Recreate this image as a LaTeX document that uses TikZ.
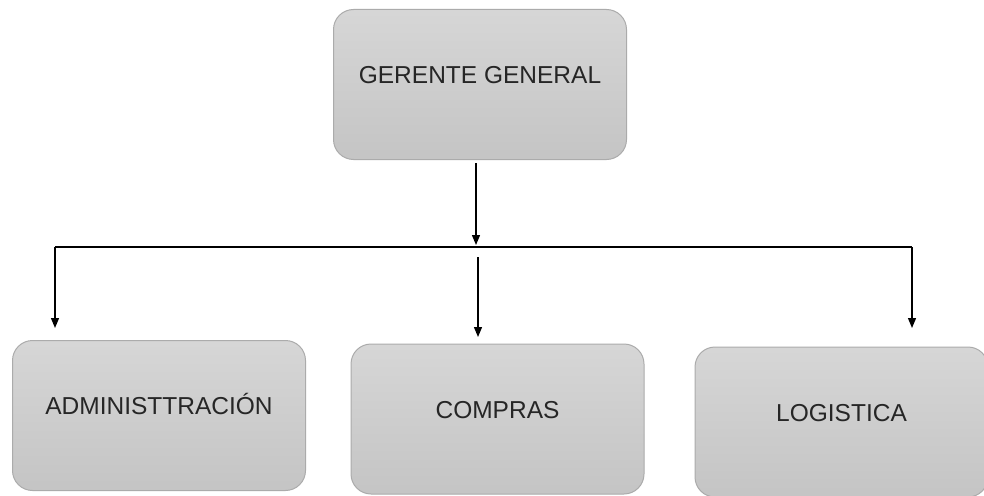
\documentclass[tikz,border=0pt]{standalone}
\usepackage{fontspec}
\setmainfont{Liberation Sans}
\usetikzlibrary{arrows.meta}
\begin{document}
\begin{tikzpicture}[x=1pt,y=-1pt,
	area_node/.style={rectangle,rounded corners=20pt,draw=black!33,line width=1pt,top color=gray!32,bottom color=gray!46,text=black!85,font=\fontsize{24.5pt}{28pt}\selectfont,minimum width=293pt,minimum height=150pt,text height=17.6pt,text depth=19pt,inner sep=0pt},
	link/.style={line width=1.3pt},
	arrow_link/.style={link,-{Triangle[width=8pt,length=10pt]}}]
		
		\useasboundingbox (0,0) rectangle (984,495);
		\clip (0,0) rectangle (984,495);
		
		\node[area_node] (gerente) at (480,84.5) {GERENTE GENERAL};
		\node[area_node] (admin) at (159,415.5) {ADMINISTTRACIÓN};
		\node[area_node] (compras) at (497.5,419) {COMPRAS};
		\node[area_node] (logistica) at (841.5,422) {LOGISTICA};
		
		\coordinate (bus_left) at (55,247);
		\coordinate (bus_mid) at (476,245);
		\coordinate (bus_right) at (912,247);
		\coordinate (drop_mid) at (478,257);
		\coordinate (tip_admin) at (55,328);
		\coordinate (tip_compras) at (478,337);
		\coordinate (tip_logistica) at (912,328);
		
		\draw[arrow_link] (gerente.south) ++(-4,3) -- (bus_mid);
		\draw[link] (bus_left) -- (bus_right);
		\draw[arrow_link] (bus_left) -- (tip_admin);
		\draw[arrow_link] (drop_mid) -- (tip_compras);
		\draw[arrow_link] (bus_right) -- (tip_logistica);
		\end{tikzpicture}
\end{document}
